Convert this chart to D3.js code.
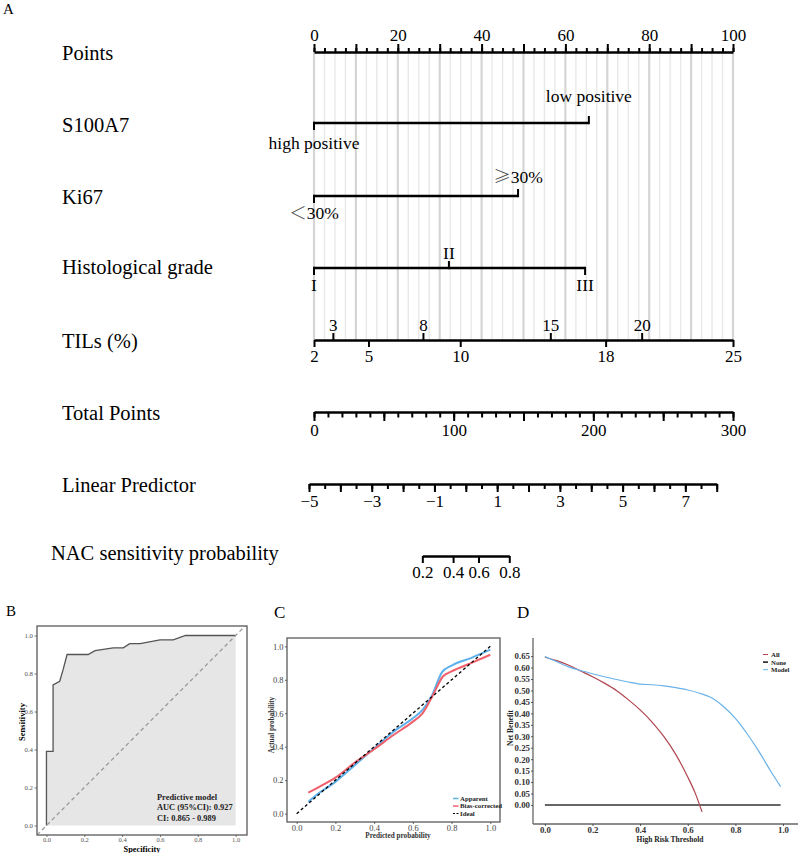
<!DOCTYPE html>
<html>
<head>
<meta charset="utf-8">
<script src="https://cdn.jsdelivr.net/npm/d3@7"></script>
<style>
  body { margin: 0; background: #fff; }
  svg { display: block; }
  text { font-family: "Liberation Serif", "Times New Roman", serif; }
  tspan.cjk { font-family: "Noto Sans CJK SC", sans-serif; }
</style>
</head>
<body>
<svg id="fig" width="800" height="853"></svg>
<script>
// ---- nomogram (panel A) ----
const rowNames = ["Points", "S100A7", "Ki67", "Histological grade", "TILs (%)",
  "Total Points", "Linear Predictor", "NAC sensitivity probability"];
const s100Levels = ["high positive", "low positive"];
const s100Points = [0, 65.6];
const ki67Levels = ["\uFF1C30%", "\u226530%"];
const ki67Points = [0, 48.7];
const gradeLevels = ["I", "II", "III"];
const gradePoints = [0, 32.2, 64.7];
const tilsValues = [2, 3, 5, 8, 10, 15, 18, 20, 25];
const tilsPoints = [0, 4.5, 13.0, 26.0, 34.9, 56.4, 69.6, 78.2, 100];
const tilsAbove = [3, 8, 15, 20];
const tilsBelow = [2, 5, 10, 18, 25];
const pointsLabels = [0, 20, 40, 60, 80, 100];
const totalLabels = [0, 100, 200, 300];
const lpLabels = [-5, -3, -1, 1, 3, 5, 7];
const probLabels = [0.2, 0.4, 0.6, 0.8];

// ---- ROC (panel B) ----
const rocFpr = [0, 0, 0.035, 0.035, 0.07, 0.088, 0.109, 0.22, 0.257, 0.353, 0.406, 0.44, 0.495, 0.6, 0.67, 0.735, 1.0];
const rocTpr = [0, 0.39, 0.39, 0.74, 0.759, 0.82, 0.90, 0.90, 0.92, 0.935, 0.935, 0.957, 0.957, 0.977, 0.977, 1.0, 1.0];
const rocText = ["Predictive model", "AUC (95%CI): 0.927", "CI: 0.865 - 0.989"];

// ---- calibration (panel C) ----
const calX = [0.06, 0.1, 0.2, 0.3, 0.4, 0.5, 0.6, 0.65, 0.7, 0.75, 0.8, 0.9, 1.0];
const apparent = [0.07, 0.11, 0.19, 0.29, 0.39, 0.49, 0.57, 0.62, 0.71, 0.845, 0.885, 0.93, 0.98];
const biasX = [0.06, 0.1, 0.2, 0.3, 0.4, 0.5, 0.6, 0.65, 0.7, 0.755, 0.8, 0.9, 1.0];
const biasCorrected = [0.125, 0.15, 0.215, 0.305, 0.385, 0.47, 0.55, 0.6, 0.7, 0.82, 0.85, 0.9, 0.95];
const calLegend = ["Apparent", "Bias-corrected", "Ideal"];

// ---- decision curve (panel D) ----
const modelThr = [0, 0.05, 0.1, 0.15, 0.2, 0.25, 0.3, 0.35, 0.4, 0.45, 0.5, 0.55, 0.6, 0.65, 0.7, 0.75, 0.8, 0.85, 0.9, 0.95, 0.99];
const modelNB = [0.648, 0.625, 0.603, 0.587, 0.573, 0.56, 0.548, 0.537, 0.528, 0.525, 0.52, 0.512, 0.502, 0.488, 0.468, 0.43, 0.378, 0.31, 0.232, 0.145, 0.08];
const allThr = [0, 0.05, 0.1, 0.15, 0.2, 0.25, 0.3, 0.35, 0.4, 0.45, 0.5, 0.55, 0.6, 0.63, 0.66];
const allNB = [0.645, 0.63, 0.61, 0.585, 0.56, 0.532, 0.5, 0.46, 0.415, 0.362, 0.298, 0.22, 0.122, 0.055, -0.03];
const noneThr = [0, 0.99];
const noneNB = [0, 0];
const dcaLegend = ["All", "None", "Model"];
const dcaYTicks = d3.range(0, 14).map(i => i * 0.05);

const serif = '"Liberation Serif","Times New Roman",serif';
const svg = d3.select("#fig").attr("font-family", serif);
svg.append("rect").attr("width", 800).attr("height", 853).attr("fill", "#fff");

// ===================== A: nomogram =====================
svg.append("text").attr("x", 3).attr("y", 14).attr("font-size", 15).text("A");

const px = d3.scaleLinear().domain([0, 100]).range([314, 733]);
const tp = d3.scaleLinear().domain([0, 300]).range([314, 733]);
const lp = d3.scaleLinear().domain([-5, 8]).range([309, 716.7]);
const tils = d3.scaleLinear().domain(tilsValues).range(tilsPoints.map(px));
const logit = p => Math.log(p / (1 - p));
const prob = d3.scaleLinear()
  .domain([logit(0.2), logit(0.8)])
  .range([lp(logit(0.2)), lp(logit(0.8))]);

const rowY = [52, 123, 196, 268, 340, 412, 484, 556];
const labelY = [60, 131.5, 203.5, 274, 347.5, 420, 492, 560];

// grid lines behind the point rows
svg.append("g").selectAll("line")
  .data(d3.range(0, 100.001, 2.5))
  .join("line")
  .attr("x1", d => px(d)).attr("x2", d => px(d))
  .attr("y1", rowY[0]).attr("y2", rowY[4])
  .attr("stroke", d => d % 10 === 0 ? "#d5d5d5" : "#e8e8e8")
  .attr("stroke-width", d => d % 10 === 0 ? 2.2 : 1.4);

svg.append("g").selectAll("text")
  .data(rowNames)
  .join("text")
  .attr("x", (d, i) => i === 7 ? 51 : 62)
  .attr("y", (d, i) => labelY[i])
  .attr("font-size", 20.5)
  .text(d => d);

function styleAxis(g, keepDomain) {
  g.attr("font-family", serif).attr("font-size", 17);
  if (keepDomain) {
    g.select(".domain").attr("stroke", "#000").attr("stroke-width", 2.6);
  } else {
    g.select(".domain").remove();
  }
  g.selectAll(".tick line").attr("stroke", "#000").attr("stroke-width", 2);
  g.selectAll(".tick text").attr("fill", "#000");
}

function twoLevelAxis(axisFn, scale, y, minor, major, labels, fmt, minorLen, majorLen) {
  const gMinor = svg.append("g").attr("transform", `translate(0,${y})`)
    .call(axisFn(scale).tickValues(minor).tickSize(minorLen).tickSizeOuter(0).tickFormat(""));
  styleAxis(gMinor, false);
  const gMajor = svg.append("g").attr("transform", `translate(0,${y})`)
    .call(axisFn(scale).tickValues(major).tickSize(majorLen).tickSizeOuter(0).tickPadding(3)
      .tickFormat(d => labels.some(l => Math.abs(l - d) < 1e-9) ? fmt(d) : ""));
  styleAxis(gMajor, true);
}

// Points
twoLevelAxis(d3.axisTop, px, rowY[0], d3.range(0, 100.001, 2.5), d3.range(0, 100.001, 10),
  pointsLabels, d3.format("d"), 4, 8);

// categorical rows
function catRow(y, levels, points, upOff, downOff) {
  const g = svg.append("g");
  g.append("line")
    .attr("x1", px(d3.min(points))).attr("x2", px(d3.max(points)))
    .attr("y1", y).attr("y2", y)
    .attr("stroke", "#000").attr("stroke-width", 2.6);
  levels.forEach((lab, i) => {
    const above = i % 2 === 1;
    const x = px(points[i]);
    g.append("line")
      .attr("x1", x).attr("x2", x)
      .attr("y1", above ? y + 1.2 : y - 1.2).attr("y2", above ? y - 7 : y + 7)
      .attr("stroke", "#000").attr("stroke-width", 2);
    const t = g.append("text")
      .attr("x", x).attr("y", above ? y + upOff : y + downOff)
      .attr("text-anchor", "middle").attr("font-size", 17.5);
    const first = lab[0];
    if (first === "\uFF1C" || first === "\u2265") {
      t.append("tspan").attr("class", "cjk").attr("font-weight", 300)
        .attr("fill", "#444").text(first);
      t.append("tspan").text(lab.slice(1));
    } else {
      t.text(lab);
    }
  });
}
catRow(rowY[1], s100Levels, s100Points, -21, 26);
catRow(rowY[2], ki67Levels, ki67Points, -13.5, 23);
catRow(rowY[3], gradeLevels, gradePoints, -9.5, 22.5);

// TILs
const gTilsUp = svg.append("g").attr("transform", `translate(0,${rowY[4]})`)
  .call(d3.axisTop(tils).tickValues(tilsAbove).tickSize(7).tickSizeOuter(0).tickPadding(2.5));
styleAxis(gTilsUp, true);
const gTilsDown = svg.append("g").attr("transform", `translate(0,${rowY[4]})`)
  .call(d3.axisBottom(tils).tickValues(tilsBelow).tickSize(7).tickSizeOuter(0).tickPadding(3));
styleAxis(gTilsDown, false);

// Total Points
twoLevelAxis(d3.axisBottom, tp, rowY[5], d3.range(0, 300.001, 10), d3.range(0, 300.001, 50),
  totalLabels, d3.format("d"), 5.5, 9);

// Linear Predictor
twoLevelAxis(d3.axisBottom, lp, rowY[6], d3.range(-5, 8.001, 0.5), d3.range(-5, 8.001, 1),
  lpLabels, d3.format("d"), 5, 8);

// NAC sensitivity probability
const gProb = svg.append("g").attr("transform", `translate(0,${rowY[7]})`)
  .call(d3.axisBottom(prob).tickValues(probLabels.map(logit)).tickSize(7).tickSizeOuter(0).tickPadding(3)
    .tickFormat(v => d3.format(".1f")(1 / (1 + Math.exp(-v)))));
styleAxis(gProb, true);

// ===================== B: ROC =====================
function smallAxis(g, size, color, weight) {
  g.attr("font-family", serif).attr("font-size", size);
  g.select(".domain").remove();
  g.selectAll(".tick line").attr("stroke", color).attr("stroke-width", 0.8);
  g.selectAll(".tick text").attr("fill", color).attr("font-weight", weight || "normal");
}

svg.append("text").attr("x", 6).attr("y", 615.5).attr("font-size", 15).text("B");
const bx = d3.scaleLinear().domain([-0.05, 1.06]).range([37, 247]);
const by = d3.scaleLinear().domain([-0.05, 1.05]).range([835, 626]);
const unit = [0, 0.2, 0.4, 0.6, 0.8, 1.0];

svg.append("clipPath").attr("id", "clipB").append("rect")
  .attr("x", 37).attr("y", 626).attr("width", 210).attr("height", 209);

const rocIdx = d3.range(rocFpr.length);
svg.append("path")
  .attr("d", d3.area().x(i => bx(rocFpr[i])).y0(by(0)).y1(i => by(rocTpr[i]))(rocIdx))
  .attr("fill", "#e6e6e6");
svg.append("path")
  .attr("d", d3.line().x(i => bx(rocFpr[i])).y(i => by(rocTpr[i]))(rocIdx))
  .attr("fill", "none").attr("stroke", "#555").attr("stroke-width", 1.3);
svg.append("line")
  .attr("clip-path", "url(#clipB)")
  .attr("x1", bx(-0.05)).attr("y1", by(-0.05)).attr("x2", bx(1.06)).attr("y2", by(1.06))
  .attr("stroke", "#9a9a9a").attr("stroke-width", 1.3).attr("stroke-dasharray", "4,3");
svg.append("rect").attr("x", 37).attr("y", 626).attr("width", 210).attr("height", 209)
  .attr("fill", "none").attr("stroke", "#666").attr("stroke-width", 1.4);

smallAxis(svg.append("g").attr("transform", "translate(37,0)")
  .call(d3.axisLeft(by).tickValues(unit).tickFormat(d3.format(".1f")).tickSize(2.5).tickPadding(1.5)), 6.8, "#555");
smallAxis(svg.append("g").attr("transform", "translate(0,835)")
  .call(d3.axisBottom(bx).tickValues(unit).tickFormat(d3.format(".1f")).tickSize(2).tickPadding(0.5)), 6.5, "#555");

svg.append("text").attr("transform", "translate(25,722) rotate(-90)")
  .attr("text-anchor", "middle").attr("font-size", 8.5).attr("font-weight", "bold").text("Sensitivity");
svg.append("text").attr("x", 142).attr("y", 851.5)
  .attr("text-anchor", "middle").attr("font-size", 8.3).attr("font-weight", "bold").text("Specificity");
svg.append("g").selectAll("text").data(rocText).join("text")
  .attr("x", 157).attr("y", (d, i) => 800 + i * 10.3)
  .attr("font-size", 8.4).attr("font-weight", "bold").attr("fill", "#222")
  .text(d => d);

// ===================== C: calibration =====================
svg.append("text").attr("x", 274).attr("y", 618).attr("font-size", 17).text("C");
const cx = d3.scaleLinear().domain([-0.05, 1.05]).range([287, 500]);
const cy = d3.scaleLinear().domain([-0.05, 1.05]).range([822, 638]);
const blue = "#5eb0ea", red = "#f0606c";

svg.append("path")
  .attr("d", d3.line().curve(d3.curveMonotoneX).x((d, i) => cx(calX[i])).y(d => cy(d))(apparent))
  .attr("fill", "none").attr("stroke", blue).attr("stroke-width", 2);
svg.append("path")
  .attr("d", d3.line().curve(d3.curveMonotoneX).x((d, i) => cx(biasX[i])).y(d => cy(d))(biasCorrected))
  .attr("fill", "none").attr("stroke", red).attr("stroke-width", 2);
svg.append("line")
  .attr("x1", cx(0)).attr("y1", cy(0)).attr("x2", cx(1)).attr("y2", cy(1))
  .attr("stroke", "#000").attr("stroke-width", 1.3).attr("stroke-dasharray", "3,2.5");
svg.append("rect").attr("x", 287).attr("y", 638).attr("width", 213).attr("height", 184)
  .attr("fill", "none").attr("stroke", "#666").attr("stroke-width", 1.4);

smallAxis(svg.append("g").attr("transform", "translate(287,0)")
  .call(d3.axisLeft(cy).tickValues(unit).tickFormat(d3.format(".1f")).tickSize(2).tickPadding(1.5)), 8.5, "#444");
smallAxis(svg.append("g").attr("transform", "translate(0,822)")
  .call(d3.axisBottom(cx).tickValues(unit).tickFormat(d3.format(".1f")).tickSize(2).tickPadding(0.5)), 8.5, "#444");

svg.append("text").attr("transform", "translate(274,725) rotate(-90)")
  .attr("text-anchor", "middle").attr("font-size", 7.2).attr("font-weight", "bold").attr("fill", "#333")
  .text("Actual probability");
svg.append("text").attr("x", 398).attr("y", 838)
  .attr("text-anchor", "middle").attr("font-size", 7.2).attr("font-weight", "bold").attr("fill", "#333")
  .text("Predicted probability");

const calColors = [blue, red, "#000"];
const gCL = svg.append("g");
calLegend.forEach((name, i) => {
  const y = 798.5 + i * 7.5;
  gCL.append("line").attr("x1", 453).attr("x2", 458.5).attr("y1", y).attr("y2", y)
    .attr("stroke", calColors[i]).attr("stroke-width", i === 2 ? 1.2 : 1.5)
    .attr("stroke-dasharray", i === 2 ? "2,1.5" : null);
  gCL.append("text").attr("x", 460).attr("y", y + 2.4)
    .attr("font-size", 6.8).attr("font-weight", "bold").attr("fill", "#222").text(name);
});

// ===================== D: decision curve =====================
svg.append("text").attr("x", 517).attr("y", 618).attr("font-size", 17).text("D");
const dx = d3.scaleLinear().domain([-0.05, 1.063]).range([533, 798]);
const dy = d3.scaleLinear().domain([-0.083, 0.729]).range([824, 638]);
const allColor = "#b0444e", modelColor = "#6ab2e8";

svg.append("path")
  .attr("d", d3.line().x((d, i) => dx(noneThr[i])).y(d => dy(d))(noneNB))
  .attr("fill", "none").attr("stroke", "#333").attr("stroke-width", 1.5);
svg.append("path")
  .attr("d", d3.line().curve(d3.curveMonotoneX).x((d, i) => dx(allThr[i])).y(d => dy(d))(allNB))
  .attr("fill", "none").attr("stroke", allColor).attr("stroke-width", 1.2);
svg.append("path")
  .attr("d", d3.line().curve(d3.curveMonotoneX).x((d, i) => dx(modelThr[i])).y(d => dy(d))(modelNB))
  .attr("fill", "none").attr("stroke", modelColor).attr("stroke-width", 1.2);

svg.append("line").attr("x1", 533).attr("x2", 533).attr("y1", 638).attr("y2", 824)
  .attr("stroke", "#666").attr("stroke-width", 1.3);
svg.append("line").attr("x1", 533).attr("x2", 798).attr("y1", 824).attr("y2", 824)
  .attr("stroke", "#666").attr("stroke-width", 1.3);

smallAxis(svg.append("g").attr("transform", "translate(533,0)")
  .call(d3.axisLeft(dy).tickValues(dcaYTicks).tickFormat(d3.format(".2f")).tickSize(2).tickPadding(1)), 8.8, "#333", "bold");
smallAxis(svg.append("g").attr("transform", "translate(0,824)")
  .call(d3.axisBottom(dx).tickValues(unit).tickFormat(d3.format(".1f")).tickSize(2).tickPadding(1)), 8.8, "#333", "bold");

svg.append("text").attr("transform", "translate(513,728) rotate(-90)")
  .attr("text-anchor", "middle").attr("font-size", 7.5).attr("font-weight", "bold").attr("fill", "#222")
  .text("Net Benefit");
svg.append("text").attr("x", 670).attr("y", 841.5)
  .attr("text-anchor", "middle").attr("font-size", 7.5).attr("font-weight", "bold").attr("fill", "#222")
  .text("High Risk Threshold");

const dcaColors = [allColor, "#222", modelColor];
const gDL = svg.append("g");
dcaLegend.forEach((name, i) => {
  const y = 654.5 + i * 7.6;
  gDL.append("line").attr("x1", 763).attr("x2", 768).attr("y1", y).attr("y2", y)
    .attr("stroke", dcaColors[i]).attr("stroke-width", i === 1 ? 1.6 : 1);
  gDL.append("text").attr("x", 771).attr("y", y + 2.4)
    .attr("font-size", 6.8).attr("font-weight", "bold").attr("fill", "#222").text(name);
});
</script>
</body>
</html>
